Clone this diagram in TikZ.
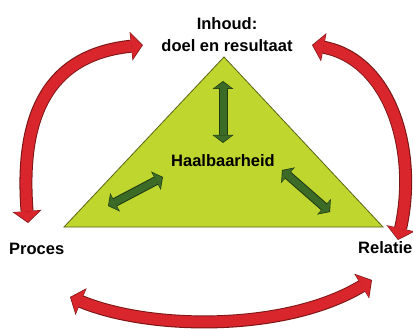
\documentclass[tikz,border=0pt]{standalone}
\usepackage{fontspec}
\setmainfont{Liberation Sans}
\usetikzlibrary{arrows.meta}

\definecolor{ringred}{HTML}{D8262C}
\definecolor{ringedge}{HTML}{7A1414}
\definecolor{trifill}{HTML}{BFD62F}
\definecolor{triedge}{HTML}{5A6414}
\definecolor{pijlgreen}{HTML}{3B6B26}
\definecolor{pijledge}{HTML}{1E3812}

\begin{document}
\begin{tikzpicture}[x=1pt,y=-1pt,
  tekst/.style={font=\fontsize{16.5}{22}\selectfont\bfseries,inner sep=0pt,align=center},
  ringout/.style={draw=ringedge,line width=13pt,
    arrows={Triangle[width=29pt,length=12pt,line width=0pt]-Triangle[width=29pt,length=12pt,line width=0pt]}},
  ringin/.style={draw=ringred,line width=11pt,shorten <=1pt,shorten >=1pt,
    arrows={Triangle[width=26pt,length=10.5pt,line width=0pt]-Triangle[width=26pt,length=10.5pt,line width=0pt]}},
  pijlout/.style={draw=pijledge,line width=9pt,
    arrows={Triangle[width=21pt,length=8pt,line width=0pt]-Triangle[width=21pt,length=8pt,line width=0pt]}},
  pijlin/.style={draw=pijlgreen,line width=7pt,shorten <=1pt,shorten >=1pt,
    arrows={Triangle[width=18pt,length=6.5pt,line width=0pt]-Triangle[width=18pt,length=6.5pt,line width=0pt]}}]
  \useasboundingbox (0,0) rectangle (413,329);

  % triangle
  \coordinate (top) at (224,57);
  \coordinate (links) at (64,227);
  \coordinate (rechts) at (383,227);
  \draw[fill=trifill,draw=triedge,line width=0.8pt] (top) -- (links) -- (rechts) -- cycle;

  % labels
  \node[tekst] (inhoud) at (227,35) {Inhoud:\\doel en resultaat};
  \node[tekst,anchor=base west] (proces) at (9,254) {Proces};
  \node[tekst,anchor=base west] (relatie) at (358,253) {Relatie};
  \node[tekst,anchor=base] (haalbaar) at (223,167) {Haalbaarheid};

  % red cycle
  \coordinate (l1) at (28,223);  \coordinate (l2) at (143,45);
  \coordinate (r1) at (312,45);  \coordinate (r2) at (398,240);
  \coordinate (b1) at (70,297);  \coordinate (b2) at (372,280);
  \foreach \laag in {ringout,ringin} {
    \draw[\laag] (l1) .. controls (20,120) and (45,55) .. (l2);
    \draw[\laag] (r1) .. controls (390,60) and (418,150) .. (r2);
    \draw[\laag] (b1) .. controls (150,330) and (285,332) .. (b2);
  }

  % green arrows
  \coordinate (g1) at (223,81);  \coordinate (g2) at (223,143);
  \coordinate (g3) at (108,206); \coordinate (g4) at (163,177);
  \coordinate (g5) at (282,170); \coordinate (g6) at (330,212);
  \foreach \laag in {pijlout,pijlin} {
    \draw[\laag] (g1) -- (g2);
    \draw[\laag] (g3) -- (g4);
    \draw[\laag] (g5) -- (g6);
  }
\end{tikzpicture}
\end{document}
